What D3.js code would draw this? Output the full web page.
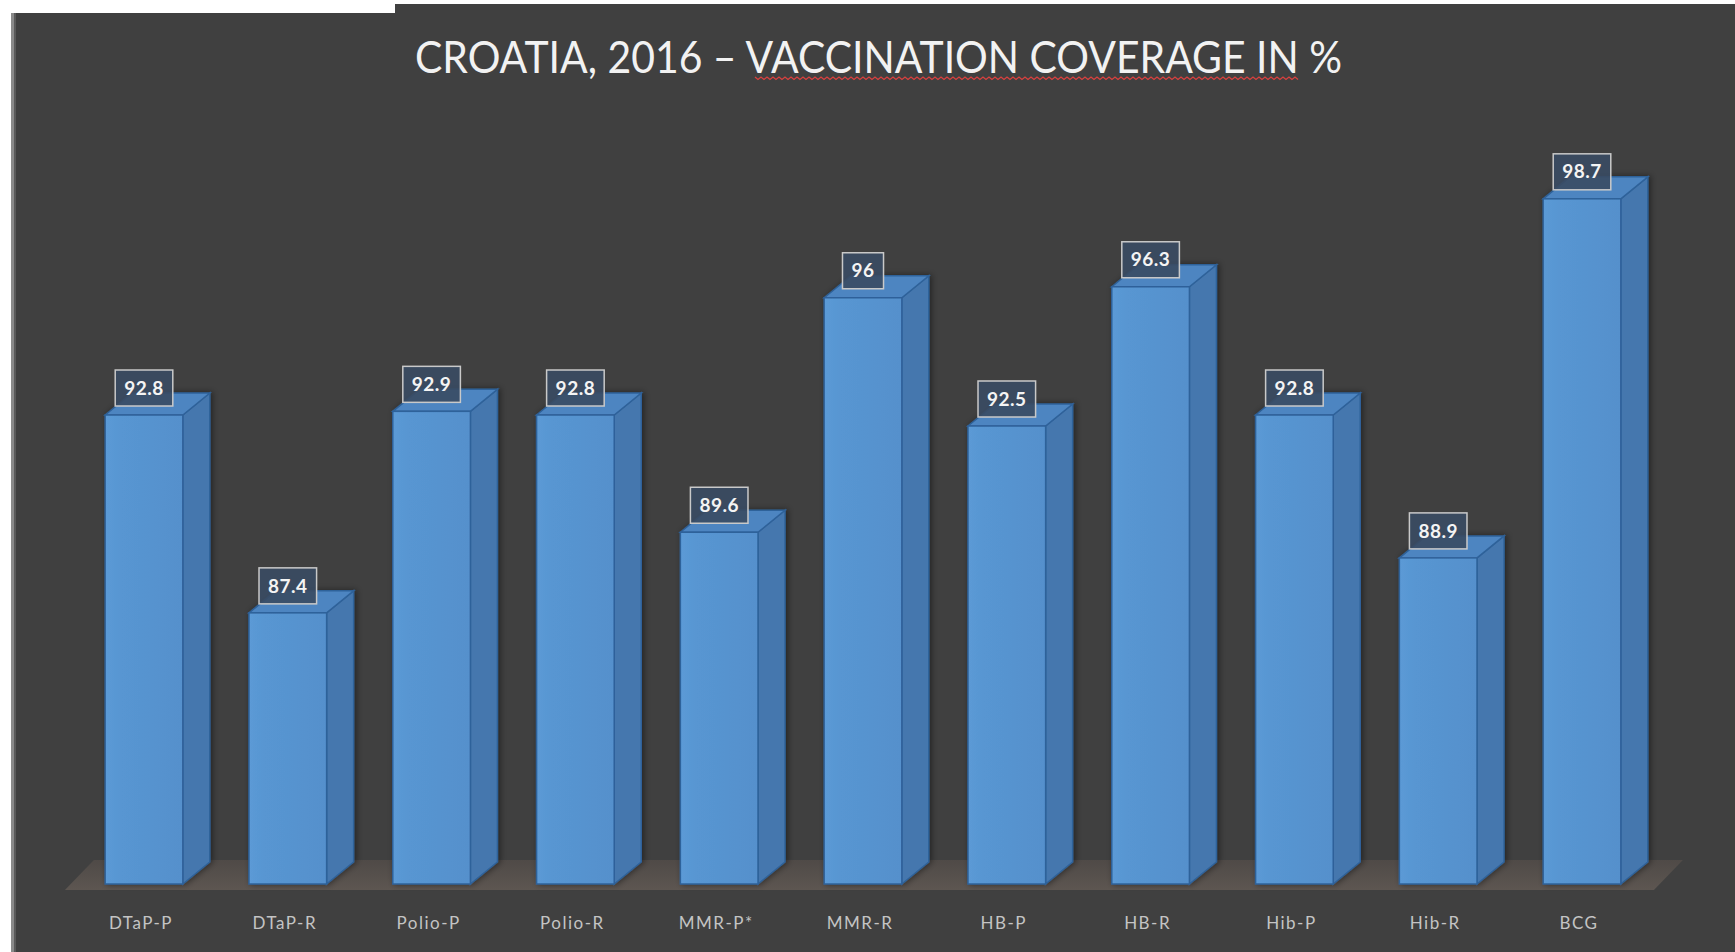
<!DOCTYPE html>
<html>
<head>
<meta charset="utf-8">
<script src="https://cdn.jsdelivr.net/npm/d3@7"></script>
<style>
  html, body { margin: 0; padding: 0; background: #fff; overflow: hidden; }
  svg { display: block; }
</style>
</head>
<body>
<script>
// chart data
const vaccines = ["DTaP-P", "DTaP-R", "Polio-P", "Polio-R", "MMR-P*", "MMR-R", "HB-P", "HB-R", "Hib-P", "Hib-R", "BCG"];
const coverage = [92.8, 87.4, 92.9, 92.8, 89.6, 96, 92.5, 96.3, 92.8, 88.9, 98.7];
const yDomain = [80, 100];
const title = "CROATIA, 2016 \u2013 VACCINATION COVERAGE IN %";

const W = 1735, H = 952;
const depth = {dx: 27, dy: -22};

const svg = d3.select("body").append("svg")
  .attr("width", W)
  .attr("height", H);

const defs = svg.append("defs");

const frontGrad = defs.append("linearGradient").attr("id", "front").attr("x1", 0).attr("x2", 1);
frontGrad.append("stop").attr("offset", 0).attr("stop-color", "#5b9ad6");
frontGrad.append("stop").attr("offset", 0.2).attr("stop-color", "#5896d2");
frontGrad.append("stop").attr("offset", 1).attr("stop-color", "#5590cc");

const floorGrad = defs.append("linearGradient").attr("id", "floor").attr("x1", 0).attr("x2", 0).attr("y1", 0).attr("y2", 1);
floorGrad.append("stop").attr("offset", 0).attr("stop-color", "#4f4a47");
floorGrad.append("stop").attr("offset", 1).attr("stop-color", "#5d5651");

const shadow = defs.append("filter").attr("id", "shadow")
  .attr("x", "-20%").attr("y", "-10%").attr("width", "140%").attr("height", "120%");
shadow.append("feDropShadow")
  .attr("dx", 2).attr("dy", 0).attr("stdDeviation", 3)
  .attr("flood-color", "#000").attr("flood-opacity", 0.45);

// panel background (slide look)
svg.append("rect").attr("x", 11).attr("y", 4).attr("width", W - 11).attr("height", H - 4).attr("fill", "#404040");
svg.append("rect").attr("x", 11).attr("y", 4).attr("width", 3).attr("height", H - 4).attr("fill", "#8a8a8a");
svg.append("rect").attr("x", 14).attr("y", 4).attr("width", 2).attr("height", H - 4).attr("fill", "#5a5a5a");
svg.append("rect").attr("x", 0).attr("y", 0).attr("width", 395).attr("height", 13).attr("fill", "#fff");

// scales
const x = d3.scalePoint()
  .domain(vaccines)
  .range([144, 1582]);
const step = x.step();
const barW = step * 0.54;

const y = d3.scaleLinear()
  .domain(yDomain)
  .range([884, 884 - 20 * 36.64]);

const base = y(yDomain[0]);

// floor
const fl = x(vaccines[0]) - step * 0.55;
const fr = x(vaccines[vaccines.length - 1]) + step * 0.5;
const fy = base + 6;
svg.append("polygon")
  .attr("points", [
    [fl, fy], [fr, fy], [fr + 29, fy - 30], [fl + 29, fy - 30]
  ].map(p => p.join(",")).join(" "))
  .attr("fill", "url(#floor)");

// bars
const bars = svg.append("g").attr("class", "bars")
  .selectAll("g")
  .data(vaccines.map((v, i) => ({name: v, value: coverage[i]})))
  .join("g")
  .attr("filter", "url(#shadow)");

bars.each(function(d) {
  const g = d3.select(this);
  const xl = x(d.name) - barW / 2;
  const xr = xl + barW;
  const top = y(d.value);

  g.append("polygon")
    .attr("points", [[xr, top], [xr + depth.dx, top + depth.dy], [xr + depth.dx, base + depth.dy], [xr, base]]
      .map(p => p.join(",")).join(" "))
    .attr("fill", "#4577ae")
    .attr("stroke", "#2f629a")
    .attr("stroke-width", 1.5);

  g.append("polygon")
    .attr("points", [[xl, top], [xl + depth.dx, top + depth.dy], [xr + depth.dx, top + depth.dy], [xr, top]]
      .map(p => p.join(",")).join(" "))
    .attr("fill", "#4d85c1")
    .attr("stroke", "#2f629a")
    .attr("stroke-width", 1.5);

  g.append("rect")
    .attr("x", xl)
    .attr("y", top)
    .attr("width", barW)
    .attr("height", base - top)
    .attr("fill", "url(#front)")
    .attr("stroke", "#2f629a")
    .attr("stroke-width", 1.5);
});

// value labels
const labels = svg.append("g").attr("class", "value-labels")
  .selectAll("g")
  .data(vaccines.map((v, i) => ({name: v, value: coverage[i]})))
  .join("g")
  .attr("transform", d => `translate(${x(d.name)},${y(d.value) - 27})`);

labels.append("text")
  .attr("text-anchor", "middle")
  .attr("dy", "0.35em")
  .attr("fill", "#f4f4f4")
  .style("font-family", "Lato, 'Open Sans', sans-serif")
  .style("font-weight", "bold")
  .style("font-size", "19px")
  .style("letter-spacing", "0.5px")
  .text(d => String(d.value));

labels.insert("rect", "text")
  .each(function() {
    const t = d3.select(this.parentNode).select("text").node().getBBox();
    d3.select(this)
      .attr("x", -t.width / 2 - 9)
      .attr("y", -18)
      .attr("width", t.width + 18)
      .attr("height", 36);
  })
  .attr("fill", "#3a4b63")
  .attr("fill-opacity", 0.9)
  .attr("stroke", "#c9c9c9")
  .attr("stroke-width", 1.5);

// category labels
svg.append("g").attr("class", "x-labels")
  .selectAll("text")
  .data(vaccines)
  .join("text")
  .attr("x", d => x(d) - 3)
  .attr("y", 929)
  .attr("text-anchor", "middle")
  .attr("fill", "#c4c4c4")
  .style("font-family", "Lato, 'Open Sans', sans-serif")
  .style("font-size", "17px")
  .style("letter-spacing", "1.5px")
  .text(d => d);

// title
svg.append("text")
  .attr("x", 415)
  .attr("y", 73)
  .attr("fill", "#f2f2f2")
  .attr("textLength", 927)
  .attr("lengthAdjust", "spacingAndGlyphs")
  .style("font-family", "Lato, 'Open Sans', sans-serif")
  .style("font-size", "45px")
  .text(title);

// spell-check squiggle under part of the title
const sq = d3.range(755, 1300, 3).map((px, i) => [px, 78 + (i % 2 ? 1.5 : -1)]);
svg.append("path")
  .attr("d", d3.line()(sq))
  .attr("fill", "none")
  .attr("stroke", "#d9413f")
  .attr("stroke-width", 1.3);
</script>
</body>
</html>
